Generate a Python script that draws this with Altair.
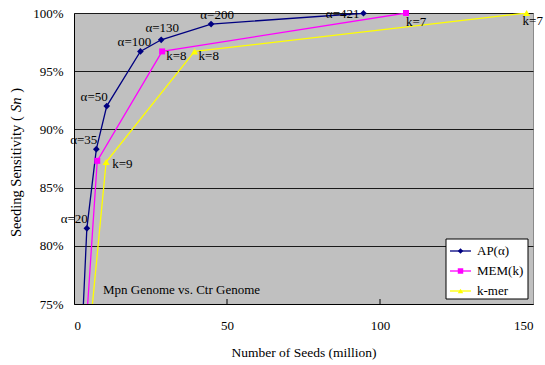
import altair as alt
import pandas as pd

FONT = "Liberation Serif"

# Seeding sensitivity (%) against number of seeds (million) for three seeding schemes
ap_seeds = [2.2, 4.2, 7.3, 10.7, 21.7, 28.5, 44.8, 94.6]
ap_sens = [70.0, 81.5, 88.3, 92.0, 96.7, 97.7, 99.05, 99.98]
ap_labels = ["", "α=20", "α=35", "α=50", "α=100", "α=130", "α=200", "α=421"]
ap_place = ["left", "left", "left", "left", "above_l", "above", "above_r", "side"]

mem_seeds = [3.2, 7.6, 28.8, 108.5]
mem_sens = [70.0, 87.3, 96.7, 100.0]
mem_labels = ["", "", "k=8", "k=7"]
mem_place = ["right", "right", "right", "below"]

kmer_seeds = [4.2, 10.5, 39.4, 147.9]
kmer_sens = [70.0, 87.2, 96.7, 100.0]
kmer_labels = ["", "k=9", "k=8", "k=7"]
kmer_place = ["right", "right_hi", "right", "below_l"]

series_names = ["AP(α)", "MEM(k)", "k-mer"]
series_colors = ["#000080", "#FF00FF", "#FFFF00"]
series_shapes = ["diamond", "square", "triangle-up"]
marker_sizes = [45, 36, 50]

x_ticks = [0, 50, 100, 150]
y_ticks = [75, 80, 85, 90, 95, 100]

frames = []
for name, xs, ys, labs, places in [
    (series_names[0], ap_seeds, ap_sens, ap_labels, ap_place),
    (series_names[1], mem_seeds, mem_sens, mem_labels, mem_place),
    (series_names[2], kmer_seeds, kmer_sens, kmer_labels, kmer_place),
]:
    frames.append(pd.DataFrame({"series": name, "seeds": xs, "sens": ys,
                                "label": labs, "place": places}))
df = pd.concat(frames, ignore_index=True)

W, H = 459, 291

x_enc = alt.X(
    "seeds:Q",
    scale=alt.Scale(domain=[0, 150], nice=False),
    axis=alt.Axis(
        values=x_ticks, grid=False, ticks=False, labelPadding=15,
        labelFont=FONT, labelFontSize=13, labelColor="black",
        domainColor="black", domainWidth=1,
        title="Number of Seeds (million)", titleFont=FONT, titleFontSize=13.5,
        titleFontWeight="normal", titleColor="black",
        titleX=W / 2, titleY=48, titleBaseline="middle",
    ),
)
y_enc = alt.Y(
    "sens:Q",
    scale=alt.Scale(domain=[75, 100], nice=False, zero=False),
    axis=alt.Axis(
        values=y_ticks, grid=True, gridColor="#1a1a1a", gridWidth=1,
        ticks=False, labelPadding=11, labelExpr="datum.value + '%'",
        labelFont=FONT, labelFontSize=13, labelColor="black",
        domainColor="black", domainWidth=1, title=None,
    ),
)

color_scale = alt.Scale(domain=series_names, range=series_colors)

lines = alt.Chart(df).mark_line(clip=True, strokeWidth=1.3).encode(
    x=x_enc, y=y_enc,
    color=alt.Color("series:N", scale=color_scale, legend=None),
    order="seeds:Q",
)

layers = [lines]
for name, col, shp, sz in zip(series_names, series_colors, series_shapes, marker_sizes):
    layers.append(
        alt.Chart(df).transform_filter(
            (alt.datum.series == name) & (alt.datum.sens >= 75)
        ).mark_point(shape=shp, filled=True, size=sz, color=col, opacity=1).encode(
            x="seeds:Q", y="sens:Q"
        )
    )

# label placements: (align, dx, dy)
placements = {
    "left": ("right", 1, -9),
    "above_l": ("center", -6, -9),
    "above": ("center", 1, -12),
    "above_r": ("center", 6, -9),
    "side": ("right", -4, 1),
    "right": ("left", 4, 5),
    "right_hi": ("left", 6, 2),
    "below": ("left", 0, 9),
    "below_l": ("left", -4, 8),
}
for key, (al, ddx, ddy) in placements.items():
    layers.append(
        alt.Chart(df).transform_filter(
            (alt.datum.place == key) & (alt.datum.label != "") & (alt.datum.sens >= 75)
        ).mark_text(align=al, baseline="middle", dx=ddx, dy=ddy, font=FONT,
                    fontSize=13, color="black").encode(
            x="seeds:Q", y="sens:Q", text="label:N"
        )
    )

# inward tick marks on the x axis
tick_df = pd.DataFrame({"seeds": x_ticks[1:-1]})
layers.append(
    alt.Chart(tick_df).mark_rule(color="black", strokeWidth=1).encode(
        x="seeds:Q", y=alt.value(H), y2=alt.value(H - 5)
    )
)

one = pd.DataFrame({"k": [0]})

# caption inside the plot
layers.append(
    alt.Chart(one).mark_text(
        align="left", baseline="middle", font=FONT, fontSize=13, color="black",
        text="Mpn Genome vs. Ctr Genome"
    ).encode(x=alt.value(29), y=alt.value(277))
)

# y-axis title, with the italic symbol Sn
TY = 14.5
title_parts = [
    ("Seeding Sensitivity (", "normal", "left", 224),
    ("Sn", "italic", "left", 99),
    (")", "normal", "right", 75),
]
for txt, style, al, ypos in title_parts:
    layers.append(
        alt.Chart(one).mark_text(
            text=txt, angle=270, align=al, baseline="middle", font=FONT,
            fontSize=TY, fontStyle=style, color="black"
        ).encode(x=alt.value(-57), y=alt.value(ypos))
    )

# legend box with one line + marker + name per series
LX, LY = 372, 226
layers.append(
    alt.Chart(one).mark_rect(fill="white", stroke="black", strokeWidth=1).encode(
        x=alt.value(LX), x2=alt.value(LX + 82), y=alt.value(LY), y2=alt.value(LY + 60)
    )
)
for i, (name, col, shp) in enumerate(zip(series_names, series_colors, series_shapes)):
    ry = LY + 12 + 20 * i
    layers.append(
        alt.Chart(one).mark_rule(color=col, strokeWidth=1.3).encode(
            x=alt.value(LX + 4), x2=alt.value(LX + 25), y=alt.value(ry)
        )
    )
    layers.append(
        alt.Chart(one).mark_point(shape=shp, filled=True, size=30, color=col, opacity=1).encode(
            x=alt.value(LX + 14.5), y=alt.value(ry)
        )
    )
    layers.append(
        alt.Chart(one).mark_text(
            text=name, align="left", baseline="middle", font=FONT, fontSize=13, color="black"
        ).encode(x=alt.value(LX + 31), y=alt.value(ry))
    )

chart = alt.layer(*layers).properties(
    width=W, height=H,
    autosize=alt.AutoSizeParams(type="none"),
    padding={"left": 74, "top": 13, "right": 12, "bottom": 61},
    background="white",
).configure_view(
    fill="#C0C0C0", stroke="#8a8a8a", strokeWidth=1
)

chart.save("out.html", embed_options={"renderer": "svg", "actions": False})
